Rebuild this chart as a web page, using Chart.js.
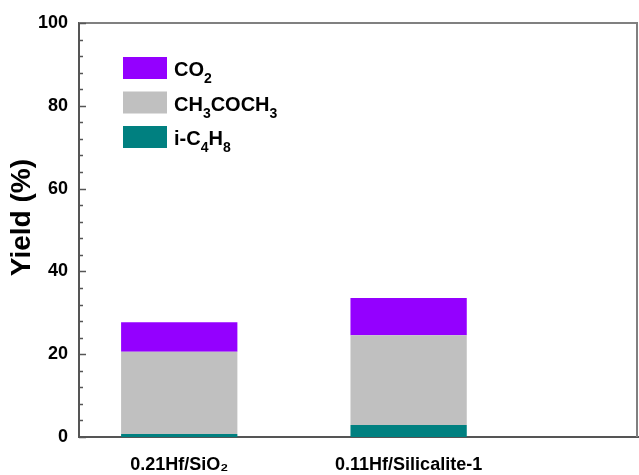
<!DOCTYPE html>
<html>
<head>
<meta charset="utf-8">
<script src="https://cdn.jsdelivr.net/npm/chart.js@4"></script>
<style>
html,body{margin:0;padding:0;background:#fff;}
#wrap{width:639px;height:475px;position:relative;}
</style>
</head>
<body>
<div id="wrap"><canvas id="c" width="639" height="475"></canvas></div>
<script>
const categories = ['0.21Hf/SiO\u2082', '0.11Hf/Silicalite-1'];
const positions = [1, 2];
const seriesLabels = ['i-C\u2084H\u2088', 'CH\u2083COCH\u2083', 'CO\u2082'];
const seriesColors = ['#008080', '#C0C0C0', '#9400FF'];
const iC4H8 = [0.7, 2.9];
const acetone = [19.9, 21.7];
const co2 = [7.1, 9.0];
const yTicks = [0, 20, 40, 60, 80, 100];
const yTitle = 'Yield (%)';

const FONT = '"Liberation Sans", Arial, sans-serif';
const seriesValues = [iC4H8, acetone, co2];

const datasets = seriesValues.map((vals, k) => ({
  label: seriesLabels[k],
  data: positions.map((p, i) => ({x: p, y: vals[i]})),
  backgroundColor: seriesColors[k],
  borderWidth: 0,
  categoryPercentage: 1.0,
  barPercentage: 0.507
}));

const subMap = {'\u2080':'0','\u2081':'1','\u2082':'2','\u2083':'3','\u2084':'4','\u2085':'5','\u2086':'6','\u2087':'7','\u2088':'8','\u2089':'9'};
function drawRich(ctx, text, x, y, size, subSize, subDrop) {
  let cx = x;
  for (const ch of text) {
    if (subMap[ch]) {
      ctx.font = 'bold ' + subSize + 'px ' + FONT;
      ctx.fillText(subMap[ch], cx, y + subDrop);
      cx += ctx.measureText(subMap[ch]).width;
    } else {
      ctx.font = 'bold ' + size + 'px ' + FONT;
      ctx.fillText(ch, cx, y);
      cx += ctx.measureText(ch).width;
    }
  }
}

const framePlugin = {
  id: 'frame',
  afterDraw(chart) {
    const ctx = chart.ctx;
    const a = chart.chartArea;
    const ys = chart.scales.y;
    ctx.save();
    ctx.strokeStyle = '#808080';
    ctx.lineWidth = 2;
    ctx.beginPath();
    ctx.moveTo(a.left, a.top);
    ctx.lineTo(a.right - 1, a.top);
    ctx.lineTo(a.right - 1, a.bottom);
    ctx.stroke();
    ctx.strokeStyle = '#555';
    ctx.lineWidth = 1.5;
    ys.ticks.forEach(t => {
      const py = Math.round(ys.getPixelForValue(t.value)) + 0.5;
      const len = yTicks.includes(t.value) ? 7 : 4;
      ctx.beginPath();
      ctx.moveTo(a.left, py);
      ctx.lineTo(a.left + len, py);
      ctx.stroke();
    });
    const order = [2, 1, 0];
    ctx.textBaseline = 'alphabetic';
    order.forEach((k, j) => {
      const bx = a.left + 44, by = a.top + 34 + j * 34.5;
      ctx.fillStyle = chart.data.datasets[k].backgroundColor;
      ctx.fillRect(bx, by, 44, 22);
      ctx.fillStyle = '#000';
      drawRich(ctx, chart.data.datasets[k].label, bx + 51, by + 19, 20, 14, 7);
    });
    // y axis title
    ctx.save();
    ctx.translate(22, ys.getPixelForValue(53));
    ctx.rotate(-Math.PI / 2);
    ctx.font = 'bold 28px ' + FONT;
    ctx.textAlign = 'center';
    ctx.textBaseline = 'middle';
    ctx.fillStyle = '#000';
    ctx.fillText(yTitle, 0, 0);
    ctx.restore();
    ctx.restore();
  }
};

new Chart(document.getElementById('c'), {
  type: 'bar',
  data: { datasets },
  options: {
    responsive: false,
    animation: false,
    layout: { padding: { top: 23, right: 1, left: 0, bottom: 0 } },
    plugins: { legend: { display: false }, tooltip: { enabled: false } },
    scales: {
      x: {
        type: 'linear',
        stacked: true,
        offset: false,
        min: 0.563,
        max: 3.0,
        afterBuildTicks: s => { s.ticks = positions.map(v => ({value: v})); },
        afterFit: s => { s.height = 38; },
        ticks: {
          callback: v => { const i = positions.indexOf(v); return i >= 0 ? categories[i] : ''; },
          font: { family: FONT, size: 18, weight: 'bold' },
          color: '#000',
          padding: 17,
          maxRotation: 0,
          autoSkip: false
        },
        grid: { display: false, drawTicks: false },
        border: { display: true, color: '#555', width: 2 }
      },
      y: {
        stacked: true,
        min: 0,
        max: 100,
        afterFit: s => { s.width = 79; },
        ticks: {
          stepSize: 4,
          autoSkip: false,
          callback: v => yTicks.includes(v) ? String(v) : '',
          font: { family: FONT, size: 18, weight: 'bold' },
          color: '#000',
          padding: 11
        },
        grid: { display: false, drawTicks: false },
        border: { display: true, color: '#555', width: 2 },
        title: { display: false }
      }
    }
  },
  plugins: [framePlugin]
});
</script>
</body>
</html>
